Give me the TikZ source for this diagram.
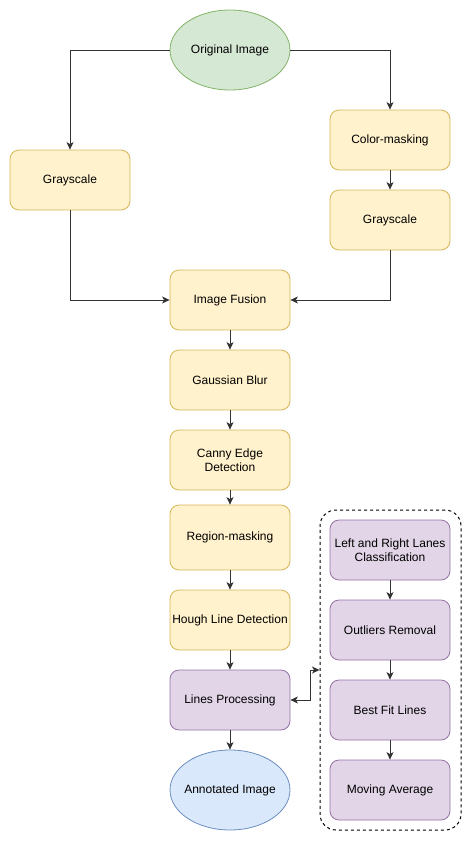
\documentclass[tikz,border=0pt]{standalone}
\usepackage{fontspec}
\setmainfont{Liberation Sans}
\usetikzlibrary{shapes.geometric,arrows.meta}
\definecolor{yfill}{HTML}{FFF2CC}\definecolor{ydraw}{HTML}{D6B656}
\definecolor{gfill}{HTML}{D5E8D4}\definecolor{gdraw}{HTML}{82B366}
\definecolor{pfill}{HTML}{E1D5E7}\definecolor{pdraw}{HTML}{9673A6}
\definecolor{bfill}{HTML}{DAE8FC}\definecolor{bdraw}{HTML}{6C8EBF}
\definecolor{edge}{HTML}{333333}
\begin{document}
\begin{tikzpicture}[x=1pt,y=-1pt,
  every node/.style={font=\fontsize{12}{14}\selectfont, align=center, inner sep=0pt},
  base/.style={rectangle, rounded corners=9pt, minimum width=120pt, minimum height=60pt, line width=0.8pt},
  ybox/.style={base, fill=yfill, draw=ydraw},
  pbox/.style={base, fill=pfill, draw=pdraw},
  gell/.style={ellipse, minimum width=120pt, minimum height=80pt, fill=gfill, draw=gdraw, line width=0.8pt},
  bell/.style={ellipse, minimum width=120pt, minimum height=80pt, fill=bfill, draw=bdraw, line width=0.8pt},
  conn/.style={draw=edge, line width=1pt, -{Stealth[length=7.5pt,width=7pt,inset=2pt]}},
  conn2/.style={draw=edge, line width=1pt, {Stealth[length=7.5pt,width=7pt,inset=2pt]}-{Stealth[length=7.5pt,width=7pt,inset=2pt]}}
]
\useasboundingbox (0,0) rectangle (471,841);
\node[gell] (orig) at (230,50) {\makebox[0pt]{Original Image}};
\node[ybox] (lgray) at (70,180) {Grayscale};
\node[ybox] (cmask) at (390,140) {Color-masking};
\node[ybox] (rgray) at (390,220) {Grayscale};
\node[ybox] (fusion) at (230,300) {Image Fusion};
\node[ybox] (blur) at (230,380) {Gaussian Blur};
\node[ybox] (canny) at (230,460) {Canny Edge\\Detection};
\node[ybox, minimum height=65pt] (region) at (230,537.5) {Region-masking};
\node[ybox] (hough) at (230,620) {Hough Line Detection};
\node[pbox] (lp) at (230,700) {Lines Processing};
\node[bell] (annot) at (230,790) {\makebox[0pt]{Annotated Image}};
\node[draw=black, dashed, dash pattern=on 3pt off 3pt, line width=1pt, rounded corners=16pt, minimum width=141pt, minimum height=320pt] (grp) at (390.5,670) {};
\node[pbox] (lr) at (390,550) {Left and Right Lanes\\Classification};
\node[pbox] (outl) at (390,630) {Outliers Removal};
\node[pbox] (best) at (390,710) {Best Fit Lines};
\node[pbox] (mavg) at (390,790) {Moving Average};

\draw[conn] (orig.west) -| (lgray.north);
\draw[conn] (orig.east) -| (cmask.north);
\draw[conn] (cmask) -- (rgray);
\draw[conn] (lgray.south) |- (fusion.west);
\draw[conn] (rgray.south) |- (fusion.east);
\draw[conn] (fusion) -- (blur);
\draw[conn] (blur) -- (canny);
\draw[conn] (canny) -- (region);
\draw[conn] (region) -- (hough);
\draw[conn] (hough) -- (lp);
\draw[conn] (lp) -- (annot);
\draw[conn] (lr) -- (outl);
\draw[conn] (outl) -- (best);
\draw[conn] (best) -- (mavg);
\draw[conn2] (lp.east) -- ++(20,0) |- (grp.west);
\end{tikzpicture}
\end{document}
